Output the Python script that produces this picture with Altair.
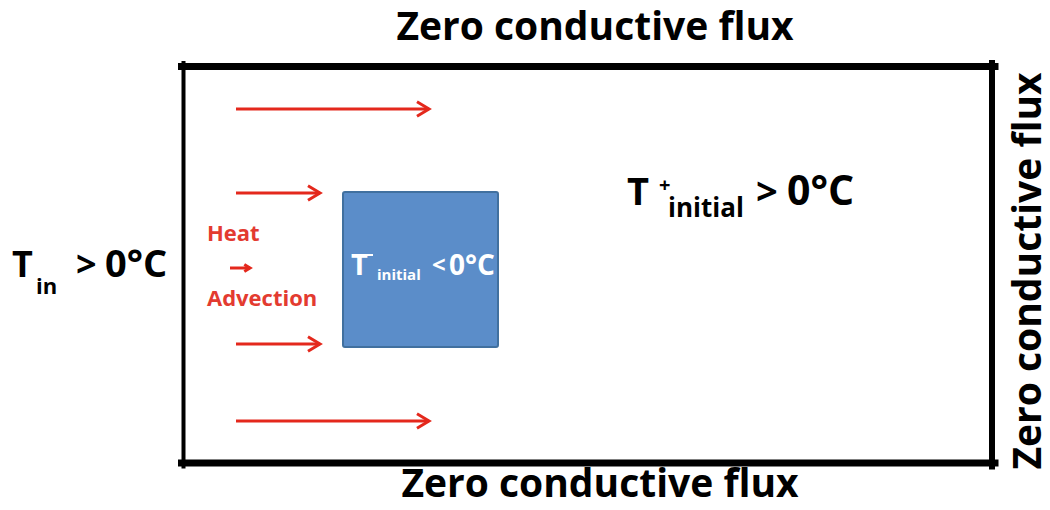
import altair as alt
import pandas as pd

# ---- canvas (reference pixel coordinates) ----
M = 8
X_RIGHT = 1042   # rightmost reference pixel column that can be drawn
Y_BOTTOM = 498   # lowest reference pixel row that is drawn

# ---- outer domain boundary ----
hborder_y = [66.5, 463]
hborder_x0 = [181.5, 181.5]
hborder_x1 = [995, 995]
hborder_w = [7, 7]
vborder_x = [183.5, 992]
vborder_y0 = [63, 63]
vborder_y1 = [466.5, 466.5]
vborder_w = [4, 6]

# ---- heat advection arrows ----
arrow_y = [109, 193, 344, 421, 268]
arrow_x0 = [236, 236, 236, 236, 230]
arrow_x1 = [429, 320, 320, 429, 250]
arrow_head = [576, 576, 576, 576, 130]

# ---- frozen block ----
block_x = [343]
block_x2 = [498]
block_y = [192]
block_y2 = [347]

# superscript minus of T- (short white bar)
dash_x0 = [367]
dash_x1 = [373]
dash_y = [255]

# ---- text pieces (left aligned) ----
lt_text = ["T", "in", ">", "0°C",
           "T", "+", "initial", ">", "0°C",
           "T", "initial", "<", "0°C",
           "Heat", "Advection"]
lt_x = [12, 36, 76, 105,
        627, 659, 668, 756, 787,
        351, 377, 432, 449,
        207, 207]
lt_y = [277, 294, 277, 277,
        205, 192, 217, 205, 205,
        275, 280, 273, 275,
        241, 306]
lt_size = [36, 22, 36, 38,
           38, 20, 26, 38, 41,
           29, 15, 24, 28,
           22, 22]
lt_color = ["#000000"] * 9 + ["#ffffff"] * 4 + ["#e33b30"] * 2

# ---- titles ----
ct_text = ["Zero conductive flux", "Zero conductive flux"]
ct_x = [595, 600]
ct_y = [40, 497]
rt_text = ["Zero conductive flux"]
rt_x = [1041]
rt_y = [271]

RED = "#e4281c"
FONT = "Open Sans"

xsc = alt.Scale(domain=[M, X_RIGHT], nice=False, zero=False)
ysc = alt.Scale(domain=[M, Y_BOTTOM], nice=False, zero=False, reverse=True)


def X(f):
    return alt.X(f, type="quantitative", scale=xsc, axis=None)


def Y(f):
    return alt.Y(f, type="quantitative", scale=ysc, axis=None)


hb = pd.DataFrame({"x": hborder_x0, "x2": hborder_x1, "y": hborder_y, "w": hborder_w})
vb = pd.DataFrame({"x": vborder_x, "y": vborder_y0, "y2": vborder_y1, "w": vborder_w})
ar = pd.DataFrame({"x": arrow_x0, "x2": arrow_x1, "y": arrow_y, "s": arrow_head})
bl = pd.DataFrame({"x": block_x, "x2": block_x2, "y": block_y, "y2": block_y2})
da = pd.DataFrame({"x": dash_x0, "x2": dash_x1, "y": dash_y})
lt = pd.DataFrame({"t": lt_text, "x": lt_x, "y": lt_y, "s": lt_size, "c": lt_color})
ct = pd.DataFrame({"t": ct_text, "x": ct_x, "y": ct_y})
rt = pd.DataFrame({"t": rt_text, "x": rt_x, "y": rt_y})

hborders = alt.Chart(hb).mark_rule(color="black", strokeCap="square").encode(
    x=X("x"), x2="x2", y=Y("y"), strokeWidth=alt.StrokeWidth("w:Q", scale=None))
vborders = alt.Chart(vb).mark_rule(color="black", strokeCap="square").encode(
    x=X("x"), y=Y("y"), y2="y2", strokeWidth=alt.StrokeWidth("w:Q", scale=None))

shafts = alt.Chart(ar).mark_rule(color=RED, strokeWidth=3).encode(
    x=X("x"), x2="x2", y=Y("y"))
heads = alt.Chart(ar).mark_point(
    shape="M-1,-0.6L0,0L-1,0.6", filled=False, color=RED, strokeWidth=3,
    opacity=1, strokeJoin="miter").encode(
    x=X("x2"), y=Y("y"), size=alt.Size("s:Q", scale=None))

block = alt.Chart(bl).mark_rect(
    color="#5b8dc9", stroke="#41709f", strokeWidth=2, cornerRadius=2).encode(
    x=X("x"), x2="x2", y=Y("y"), y2="y2")

dash = alt.Chart(da).mark_rule(color="white", strokeWidth=2).encode(
    x=X("x"), x2="x2", y=Y("y"))

left_text = alt.Chart(lt).mark_text(
    align="left", baseline="alphabetic", font=FONT, fontWeight="bold").encode(
    x=X("x"), y=Y("y"), text="t:N",
    size=alt.Size("s:Q", scale=None), color=alt.Color("c:N", scale=None))

titles = alt.Chart(ct).mark_text(
    align="center", baseline="alphabetic", font=FONT, fontWeight="bold",
    fontSize=39, color="black").encode(x=X("x"), y=Y("y"), text="t:N")

side_title = alt.Chart(rt).mark_text(
    align="center", baseline="alphabetic", font=FONT, fontWeight="bold",
    fontSize=39, color="black", angle=270).encode(x=X("x"), y=Y("y"), text="t:N")

chart = alt.layer(
    block, dash, shafts, heads, hborders, vborders, left_text, titles, side_title
).properties(
    width=X_RIGHT - M, height=Y_BOTTOM - M, padding=0, background="white",
    autosize=alt.AutoSizeParams(type="none")
).configure_view(strokeWidth=0)

chart.save("out.html", embed_options={"renderer": "svg", "actions": False})
